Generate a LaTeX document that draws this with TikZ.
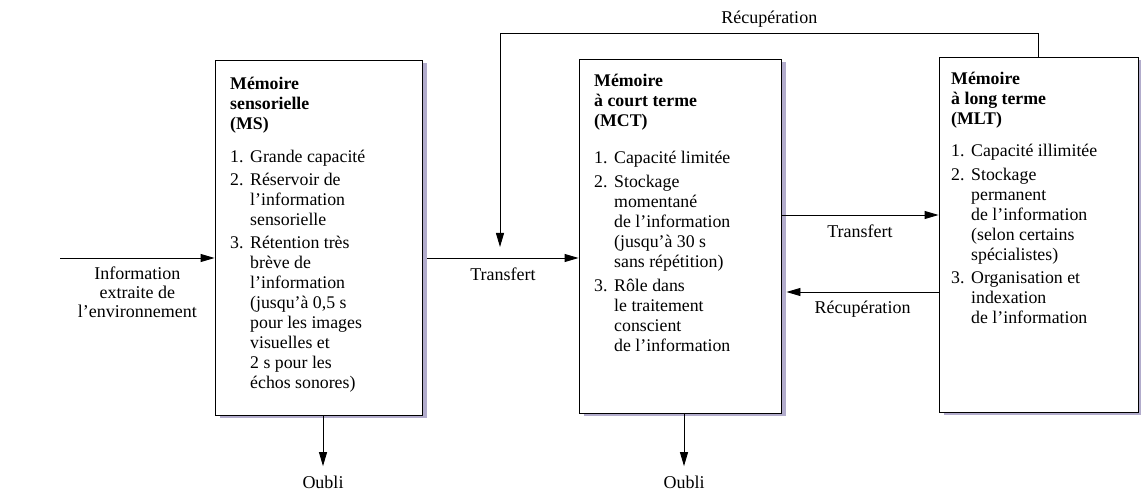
\documentclass[tikz,border=0pt]{standalone}
\usepackage{fontspec}
\setmainfont{Liberation Serif}
\usetikzlibrary{arrows.meta,shadows}

\definecolor{memshadow}{RGB}{178,172,204}

\tikzset{
  membox/.style={draw,line width=0.9pt,fill=white,inner sep=0pt,
    drop shadow={shadow xshift=5pt,shadow yshift=-3pt,fill=memshadow,opacity=1}},
  memtext/.style={anchor=north west,inner sep=0pt,align=left,
    font=\fontsize{17.8}{20}\selectfont},
  flowlabel/.style={font=\fontsize{18}{19}\selectfont,align=center},
  arr/.style={line width=0.9pt,-{Triangle[length=14pt,width=8pt]}}
}

\newcommand{\itm}[1]{\makebox[20pt][l]{#1}}
\newcommand{\cnt}{\hspace*{20pt}}

\begin{document}
\begin{tikzpicture}[x=1pt,y=-1pt]
\useasboundingbox (0,0) rectangle (1141,494);

% the three memories
\node[membox,minimum width=207pt,minimum height=355pt] (ms) at (318.5,237.5) {};
\node[membox,minimum width=202pt,minimum height=354pt] (mct) at (680,236) {};
\node[membox,minimum width=199pt,minimum height=355pt] (mlt) at (1038.5,234.5) {};

\node[memtext] (mstxt) at (230,77) {\textbf{Mémoire}\\ \textbf{sensorielle}\\ \textbf{(MS)}\\[13pt]
  \itm{1.}Grande capacité\\[3pt]
  \itm{2.}Réservoir de\\ \cnt l’information\\ \cnt sensorielle\\[3pt]
  \itm{3.}Rétention très\\ \cnt brève de\\ \cnt l’information\\ \cnt (jusqu’à 0,5 s\\
  \cnt pour les images\\ \cnt visuelles et\\ \cnt 2 s pour les\\ \cnt échos sonores)};

\node[memtext] (mcttxt) at (594,74) {\textbf{Mémoire}\\ \textbf{à court terme}\\ \textbf{(MCT)}\\[17pt]
  \itm{1.}Capacité limitée\\[4pt]
  \itm{2.}Stockage\\ \cnt momentané\\ \cnt de l’information\\ \cnt (jusqu’à 30 s\\ \cnt sans répétition)\\[4pt]
  \itm{3.}Rôle dans\\ \cnt le traitement\\ \cnt conscient\\ \cnt de l’information};

\node[memtext] (mlttxt) at (951,72) {\textbf{Mémoire}\\ \textbf{à long terme}\\ \textbf{(MLT)}\\[12pt]
  \itm{1.}Capacité illimitée\\[4pt]
  \itm{2.}Stockage\\ \cnt permanent\\ \cnt de l’information\\ \cnt (selon certains\\ \cnt spécialistes)\\[3pt]
  \itm{3.}Organisation et\\ \cnt indexation\\ \cnt de l’information};

% forgetting
\node[flowlabel] (oublims) at (323,482) {Oubli};
\node[flowlabel] (oublimct) at (684,482) {Oubli};
\draw[arr,shorten >=6pt] (ms.south -| oublims) -- (oublims);
\draw[arr,shorten >=6pt] (mct.south -| oublimct) -- (oublimct);

% input
\coordinate (in) at (60,258);
\draw[arr] (in) -- node[flowlabel,below=5pt] (intxt) {Information\\ extraite de\\ l’environnement} (in -| ms.west);

% transfers
\draw[arr] ([xshift=5pt]ms.east |- in) -- node[flowlabel,below=6pt] (tr1) {Transfert} (mct.west |- in);
\coordinate (up) at (0,215);
\coordinate (down) at (0,292);
\draw[arr] (mct.east |- up) -- node[flowlabel,below=6pt] (tr2) {Transfert} (mlt.west |- up);
\draw[arr] (mlt.west |- down) -- node[flowlabel,below=5pt] (rec1) {Récupération} ([xshift=5pt]mct.east |- down);

% retrieval over the top
\coordinate (top) at (0,33);
\coordinate (tip) at (500,247);
\draw[arr] (mlt.north) -- (mlt.north |- top) -| node[flowlabel,pos=0.25,above=2pt] (rec2) {Récupération} (tip);

\end{tikzpicture}
\end{document}
